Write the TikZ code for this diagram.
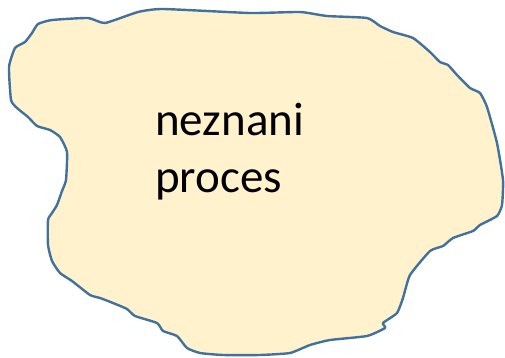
\documentclass[tikz,border=0pt]{standalone}
\usepackage{fontspec}
\setmainfont{Carlito}
\usepackage{tikz}
\usetikzlibrary{positioning}
\definecolor{blobfill}{HTML}{FFF2CC}
\definecolor{blobline}{HTML}{41719C}

\begin{document}
\begin{tikzpicture}[
  x=1pt, y=-1pt,
  blob/.style={
    draw=blobline, fill=blobfill, line width=2.4pt, line join=round
  },
  label/.style={
    font=\fontsize{47}{56}\selectfont, align=left, inner sep=0pt
  },
]
\useasboundingbox (0,0) rectangle (505,358);

% oblak procesa
\draw[blob] plot[smooth cycle, tension=0.3] coordinates {
  (138,12) (163,9) (250,13) (300,12) (327,16) (367,18) (380,26)
  (393,32) (413,38) (430,52) (440,62) (448,65) (457,75) (470,88)
  (480,93) (487,107) (497,143) (503,180) (502,205) (497,216)
  (480,225) (473,231) (453,238) (443,246) (430,251) (410,275)
  (403,298) (397,313) (383,323) (385,328) (367,336) (330,340)
  (310,345) (290,353) (260,355) (223,355) (200,353) (187,348)
  (177,336) (163,331) (157,323) (135,316) (127,309) (113,303)
  (100,298) (90,295) (72,281) (60,273) (52,261) (48,245) (48,220)
  (52,213) (57,205) (62,191) (66,180) (67,152) (60,137) (50,130)
  (37,126) (28,117) (17,108) (11,100) (9,67) (15,48) (25,42)
  (32,33) (38,24) (52,20) (88,18) (105,23)
};

% besedilo
\node[label, anchor=base west] (proc) at (155,192) {neznani\\proces};

\end{tikzpicture}
\end{document}
